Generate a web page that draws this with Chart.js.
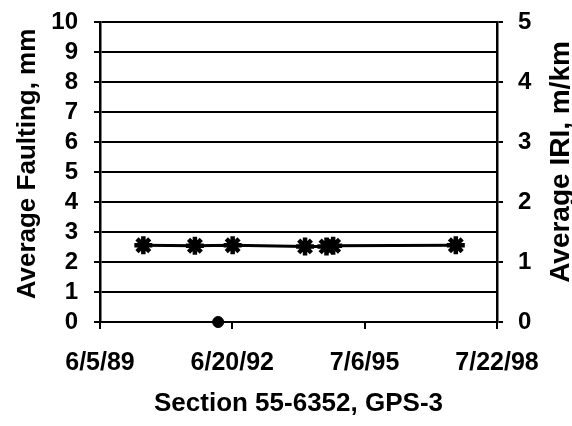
<!DOCTYPE html>
<html>
<head>
<meta charset="utf-8">
<script src="https://cdn.jsdelivr.net/npm/chart.js@4/dist/chart.umd.min.js"></script>
<style>
  html, body { margin: 0; padding: 0; background: #fff; }
  #wrap { width: 572px; height: 426px; }
</style>
</head>
<body>
<div id="wrap"><canvas id="faultChart" width="572" height="426"></canvas></div>
<script>
// x axis tick labels (dates, m/d/yy)
const xTickLabels = ['6/5/89', '6/20/92', '7/6/95', '7/22/98'];
// IRI survey dates and values (m/km, right axis)
const iriDates = ['6/4/90', '8/11/91', '6/23/92', '2/21/94', '8/20/94', '10/15/94', '8/10/97'];
const iriValues = [1.28, 1.27, 1.28, 1.26, 1.26, 1.27, 1.28];
// faulting survey dates and values (mm, left axis)
const faultDates = ['2/22/92'];
const faultValues = [0];

const leftTitle = 'Average Faulting, mm';
const rightTitle = 'Average IRI, m/km';
const caption = 'Section 55-6352, GPS-3';

// day number from m/d/yy
function toDay(s) {
    const [m, d, y] = s.split('/').map(Number);
    return Date.UTC(1900 + y, m - 1, d) / 86400000;
}
const xTicks = xTickLabels.map(toDay);

const FONT = '"Liberation Sans", Arial, sans-serif';

// vertical axis titles (both read bottom to top)
const sideTitles = {
    id: 'sideTitles',
    afterDraw(chart) {
        const ctx = chart.ctx;
        const area = chart.chartArea;
        const midY = (area.top + area.bottom) / 2 - 8;
        ctx.save();
        ctx.fillStyle = '#000';
        ctx.textAlign = 'center';
        ctx.textBaseline = 'middle';
        ctx.font = 'bold 26px ' + FONT;
        ctx.translate(28, midY);
        ctx.rotate(-Math.PI / 2);
        ctx.fillText(leftTitle, 0, 0);
        ctx.restore();
        ctx.save();
        ctx.fillStyle = '#000';
        ctx.textAlign = 'center';
        ctx.textBaseline = 'middle';
        ctx.font = 'bold 28px ' + FONT;
        ctx.translate(561, midY - 2);
        ctx.rotate(-Math.PI / 2);
        ctx.fillText(rightTitle, 0, 0);
        ctx.restore();
    }
};

// keep the plot box fixed: no extra room for half-labels
function noPad(scale) {
    scale.paddingTop = 0;
    scale.paddingBottom = 0;
    scale.paddingLeft = 0;
    scale.paddingRight = 0;
}

const ctx = document.getElementById('faultChart').getContext('2d');
new Chart(ctx, {
    type: 'line',
    data: {
        datasets: [{
            label: 'IRI',
            data: iriDates.map((d, i) => ({ x: toDay(d), y: iriValues[i] })),
            yAxisID: 'y1',
            borderColor: '#000',
            borderWidth: 3,
            pointStyle: 'star',
            pointRadius: 9,
            pointBorderWidth: 4.5,
            pointBorderColor: '#000',
            pointBackgroundColor: '#000',
            tension: 0
        }, {
            label: 'Faulting',
            data: faultDates.map((d, i) => ({ x: toDay(d), y: faultValues[i] })),
            yAxisID: 'y',
            showLine: false,
            pointStyle: 'circle',
            pointRadius: 5.5,
            pointBackgroundColor: '#000',
            pointBorderColor: '#000',
            clip: false
        }]
    },
    options: {
        responsive: false,
        animation: false,
        layout: { padding: { top: 22, bottom: 0, left: 0, right: 0 } },
        plugins: {
            legend: { display: false },
            tooltip: { enabled: false }
        },
        scales: {
            x: {
                type: 'linear',
                min: xTicks[0],
                max: xTicks[xTicks.length - 1],
                afterBuildTicks: scale => { scale.ticks = xTicks.map(v => ({ value: v })); },
                afterFit: scale => { scale.height = 104; noPad(scale); },
                grid: { drawOnChartArea: false, drawTicks: true, tickLength: 7, color: '#000', lineWidth: 2 },
                border: { display: true, color: '#000', width: 2 },
                ticks: {
                    color: '#000',
                    padding: 19,
                    maxRotation: 0,
                    autoSkip: false,
                    font: { family: FONT, size: 25, weight: 'bold' },
                    callback: (v, i) => xTickLabels[i]
                },
                title: {
                    display: true,
                    text: caption,
                    color: '#000',
                    font: { family: FONT, size: 26, weight: 'bold' },
                    padding: { top: 0, bottom: 7 }
                }
            },
            y: {
                position: 'left',
                min: 0,
                max: 10,
                afterFit: scale => { scale.width = 100; noPad(scale); },
                grid: { color: '#000', lineWidth: 2, tickLength: 6 },
                border: { display: true, color: '#000', width: 2.5 },
                ticks: {
                    stepSize: 1,
                    autoSkip: false,
                    color: '#000',
                    padding: 16,
                    font: { family: FONT, size: 24, weight: 'bold' }
                }
            },
            y1: {
                position: 'right',
                min: 0,
                max: 5,
                afterFit: scale => { scale.width = 75; noPad(scale); },
                grid: { drawOnChartArea: false, color: '#000', lineWidth: 2, tickLength: 6 },
                border: { display: true, color: '#000', width: 2.5 },
                ticks: {
                    stepSize: 1,
                    autoSkip: false,
                    color: '#000',
                    padding: 15,
                    font: { family: FONT, size: 24, weight: 'bold' }
                }
            }
        }
    },
    plugins: [sideTitles]
});
</script>
</body>
</html>
